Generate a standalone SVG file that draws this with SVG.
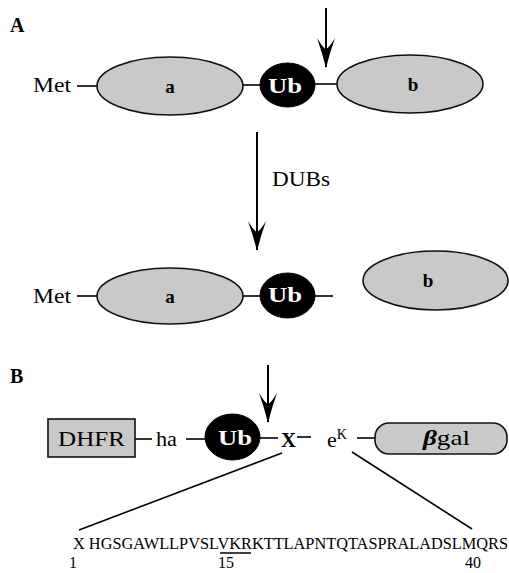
<svg xmlns="http://www.w3.org/2000/svg" width="509" height="573" viewBox="0 0 509 573" font-family="'Liberation Serif', 'DejaVu Serif', 'Times New Roman', serif">
<style>
text{font-family:'Liberation Serif','DejaVu Serif','Times New Roman',serif;fill:#000}
.lbl{font-size:22px}
.panel{font-size:20px;font-weight:bold}
.bold{font-size:19px;font-weight:bold}
.ubt{font-size:22px;font-weight:bold;fill:#fff}
.dom{fill:#c9c9c9;stroke:#111;stroke-width:1.6}
.ub{fill:#000;stroke:#000;stroke-width:1}
.ln{stroke:#000;stroke-width:1.6;fill:none}
.arr{stroke:#000;stroke-width:2;fill:none;marker-end:url(#ah)}
.seq{font-size:16.2px}
.num{font-size:16px}
</style>
<defs>
<marker id="ah" markerUnits="userSpaceOnUse" viewBox="0 0 30 18" refX="29" refY="9" markerWidth="30" markerHeight="18" orient="auto">
<path d="M30,9 Q14,5 0,0 Q10,6 11,9 Q10,12 0,18 Q14,13 30,9 Z" fill="#000"/>
</marker>
</defs>

<text class="panel" x="10" y="32">A</text>
<text class="panel" x="10" y="383">B</text>

<g id="connectors">
<line class="ln" x1="77" y1="86" x2="97" y2="86"/>
<line class="ln" x1="243" y1="85" x2="260" y2="85"/>
<line class="ln" x1="315" y1="84" x2="337" y2="84"/>
<line class="arr" x1="326" y1="8" x2="326" y2="67"/>
<line class="arr" x1="257" y1="132" x2="257" y2="250"/>
<line class="ln" x1="77" y1="296" x2="97" y2="296"/>
<line class="ln" x1="243" y1="296" x2="260" y2="296"/>
<line class="ln" x1="315" y1="296" x2="333" y2="296"/>
<line class="arr" x1="268" y1="365" x2="268" y2="422"/>
<line class="ln" x1="135" y1="439" x2="152" y2="439"/>
<line class="ln" x1="186" y1="439" x2="205" y2="439"/>
<line class="ln" x1="260" y1="438" x2="278" y2="438"/>
<line class="ln" x1="297" y1="437" x2="311" y2="437"/>
<line class="ln" x1="357" y1="438" x2="375" y2="438"/>
<line class="ln" x1="282" y1="453" x2="79" y2="530"/>
<line class="ln" x1="352" y1="452" x2="472" y2="529"/>
</g>

<text class="lbl" x="272" y="186" textLength="58" lengthAdjust="spacingAndGlyphs">DUBs</text>

<g id="met1"><text class="lbl" x="33" y="92" textLength="38" lengthAdjust="spacingAndGlyphs">Met</text></g>
<g id="a1"><ellipse class="dom" cx="170" cy="86" rx="73" ry="29"/><text class="bold" x="170" y="93" text-anchor="middle">a</text></g>
<g id="ub1"><ellipse class="ub" cx="287.5" cy="85" rx="27.5" ry="22"/><text class="ubt" x="268" y="93" textLength="34" lengthAdjust="spacingAndGlyphs">Ub</text></g>
<g id="b1"><ellipse class="dom" cx="410" cy="84" rx="73" ry="29"/><text class="bold" x="413" y="91" text-anchor="middle">b</text></g>

<g id="met2"><text class="lbl" x="33" y="303" textLength="38" lengthAdjust="spacingAndGlyphs">Met</text></g>
<g id="a2"><ellipse class="dom" cx="170" cy="296" rx="73" ry="28"/><text class="bold" x="170" y="303" text-anchor="middle">a</text></g>
<g id="ub2"><ellipse class="ub" cx="287.5" cy="295.5" rx="27.5" ry="22.5"/><text class="ubt" x="268" y="302" textLength="34" lengthAdjust="spacingAndGlyphs">Ub</text></g>
<g id="b2"><ellipse class="dom" cx="435.5" cy="280.5" rx="72.5" ry="29.5"/><text class="bold" x="428" y="287" text-anchor="middle">b</text></g>

<g id="dhfr"><rect class="dom" x="48" y="419" width="87" height="38"/><text class="lbl" x="58" y="446" textLength="67" lengthAdjust="spacingAndGlyphs">DHFR</text></g>
<g id="ha"><text class="lbl" x="156" y="446" textLength="21" lengthAdjust="spacingAndGlyphs">ha</text></g>
<g id="ub3"><ellipse class="ub" cx="232.5" cy="437" rx="27.5" ry="23"/><text class="ubt" x="218" y="445" textLength="34" lengthAdjust="spacingAndGlyphs">Ub</text></g>
<g id="x"><text class="lbl" x="281" y="447" font-weight="bold" textLength="15" lengthAdjust="spacingAndGlyphs">X</text></g>
<g id="ek"><text class="lbl" x="327" y="447">e<tspan font-size="14" dy="-8">K</tspan></text></g>
<g id="bgal"><rect class="dom" x="375" y="423" width="132" height="31" rx="14" ry="14"/><text class="lbl" x="423" y="445" textLength="47" lengthAdjust="spacingAndGlyphs"><tspan font-style="italic" font-weight="bold">β</tspan>gal</text></g>

<g id="sequence">
<text class="seq" x="73" y="549" textLength="435" lengthAdjust="spacingAndGlyphs">X HGSGAWLLPVSLVKRKTTLAPNTQTASPRALADSLMQRS</text>
<line x1="220" y1="553" x2="251" y2="553" stroke="#000" stroke-width="1.5"/>
<text class="num" x="69" y="568">1</text>
<text class="num" x="218" y="568">15</text>
<text class="num" x="465" y="568">40</text>
</g>
</svg>
